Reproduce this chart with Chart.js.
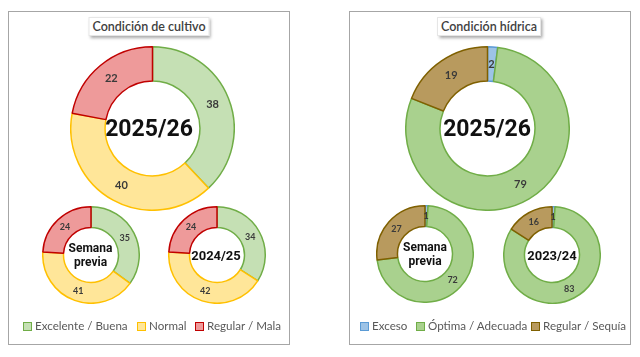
<!DOCTYPE html>
<html><head><meta charset="utf-8">
<script src="https://cdn.jsdelivr.net/npm/chart.js@4/dist/chart.umd.min.js"></script>
<style>
html,body{margin:0;padding:0}
body{width:640px;height:357px;background:#fff;position:relative;overflow:hidden;font-family:Lato,'Open Sans',sans-serif}
.panel{position:absolute;border:1px solid #a6a6a6;box-sizing:border-box}
.title{position:absolute;background:#fff;box-shadow:2px 2px 3px rgba(0,0,0,0.35);border:1px solid #e6e6e6;color:#404040;font-size:12.5px;font-weight:600;white-space:nowrap;transform:translateX(-50%);padding:1px 3px;line-height:15px}
canvas{position:absolute}
.center{position:absolute;transform:translate(-50%,-50%);font-family:Roboto,sans-serif;font-weight:700;color:#111;text-align:center;white-space:nowrap}
.litem{position:absolute;display:flex;align-items:center;font-size:11.6px;color:#595959;white-space:nowrap;height:14px;line-height:14px}
.litem span.sq{display:inline-block;width:7px;height:7px;border:1px solid;margin-right:3px;flex:none}
</style>
</head><body>
<div class="panel" style="left:8px;top:11px;width:282px;height:334px"></div>
<div class="panel" style="left:349px;top:11px;width:282px;height:334px"></div>
<div id="root"></div>
<script>
// ---- Data ----
const cropCategories = ['Excelente / Buena', 'Normal', 'Regular / Mala'];
const cropCurrent = [38, 40, 22];
const cropPrevWeek = [35, 41, 24];
const cropLastYear = [34, 42, 24];
const cropTitle = 'Condición de cultivo';
const cropCenterLabels = ['2025/26', 'Semana<br>previa', '2024/25'];

const waterCategories = ['Exceso', 'Óptima / Adecuada', 'Regular / Sequía'];
const waterCurrent = [2, 79, 19];
const waterPrevWeek = [1, 72, 27];
const waterLastYear = [1, 83, 16];
const waterTitle = 'Condición hídrica';
const waterCenterLabels = ['2025/26', 'Semana<br>previa', '2023/24'];

// ---- Styles / layout ----
const cropFill = ['#c5e0b4', '#ffe699', '#ee9a9a'];
const cropBorder = ['#70ad47', '#ffc000', '#c00000'];
const waterFill = ['#9dc3e6', '#a9d18e', '#b89a5e'];
const waterBorder = ['#5b9bd5', '#70ad47', '#7f6000'];
const cropLegendX = [23, 137, 195];
const waterLegendX = [360, 416, 531];

const root = document.getElementById('root');

const labelPlugin = {
  id: 'sliceLabels',
  afterDatasetsDraw(chart, args, opts) {
    const ctx = chart.ctx;
    const meta = chart.getDatasetMeta(0);
    const data = chart.data.datasets[0].data;
    ctx.save();
    ctx.font = 'bold ' + opts.size + 'px Lato, sans-serif';
    ctx.fillStyle = '#3a3a3a';
    ctx.textAlign = 'center';
    ctx.textBaseline = 'middle';
    meta.data.forEach((arc, i) => {
      const p = arc.tooltipPosition();
      ctx.fillText(String(data[i]), p.x, p.y);
    });
    ctx.restore();
  }
};

function donut(cx, cy, size, values, fill, border, cutout, labelSize, centerHtml, centerFont, textDx) {
  const c = document.createElement('canvas');
  c.width = size; c.height = size;
  c.style.left = (cx - size / 2) + 'px';
  c.style.top = (cy - size / 2) + 'px';
  root.appendChild(c);
  new Chart(c, {
    type: 'doughnut',
    data: { datasets: [{ data: values, backgroundColor: fill, borderColor: border, borderWidth: 1.5 }] },
    options: {
      responsive: false, animation: false, devicePixelRatio: 1,
      cutout: cutout,
      plugins: { legend: { display: false }, tooltip: { enabled: false }, sliceLabels: { size: labelSize } },
      layout: { padding: 0 }
    },
    plugins: [labelPlugin]
  });
  const t = document.createElement('div');
  t.className = 'center';
  t.style.left = (cx + (textDx || 0)) + 'px'; t.style.top = cy + 'px';
  t.style.fontSize = centerFont + 'px';
  t.style.lineHeight = (centerFont + 2) + 'px';
  t.innerHTML = centerHtml;
  root.appendChild(t);
}

function title(cx, top, text) {
  const d = document.createElement('div');
  d.className = 'title';
  d.style.left = cx + 'px'; d.style.top = top + 'px';
  d.textContent = text;
  root.appendChild(d);
}

function legend(xs, top, cats, fill, border) {
  cats.forEach((c, i) => {
    const it = document.createElement('div');
    it.className = 'litem';
    it.style.left = xs[i] + 'px'; it.style.top = top + 'px';
    const sq = document.createElement('span');
    sq.className = 'sq';
    sq.style.background = fill[i]; sq.style.borderColor = border[i];
    it.appendChild(sq);
    it.appendChild(document.createTextNode(c));
    root.appendChild(it);
  });
}

// Left panel
title(149, 17, cropTitle);
donut(152, 128, 165, cropCurrent, cropFill, cropBorder, '58%', 11, cropCenterLabels[0], 23, -3);
donut(90.5, 254.5, 98, cropPrevWeek, cropFill, cropBorder, '57%', 9, cropCenterLabels[1], 12, 0);
donut(217, 254.5, 98, cropLastYear, cropFill, cropBorder, '57%', 9, cropCenterLabels[2], 13, -1);
legend(cropLegendX, 319, cropCategories, cropFill, cropBorder);

// Right panel
title(489, 17, waterTitle);
donut(487, 128, 165, waterCurrent, waterFill, waterBorder, '58%', 11, waterCenterLabels[0], 23, 0);
donut(425, 253.5, 98, waterPrevWeek, waterFill, waterBorder, '57%', 9, waterCenterLabels[1], 12, 0);
donut(552, 254.5, 98, waterLastYear, waterFill, waterBorder, '57%', 9, waterCenterLabels[2], 13, 0);
legend(waterLegendX, 319, waterCategories, waterFill, waterBorder);
</script>
</body></html>
